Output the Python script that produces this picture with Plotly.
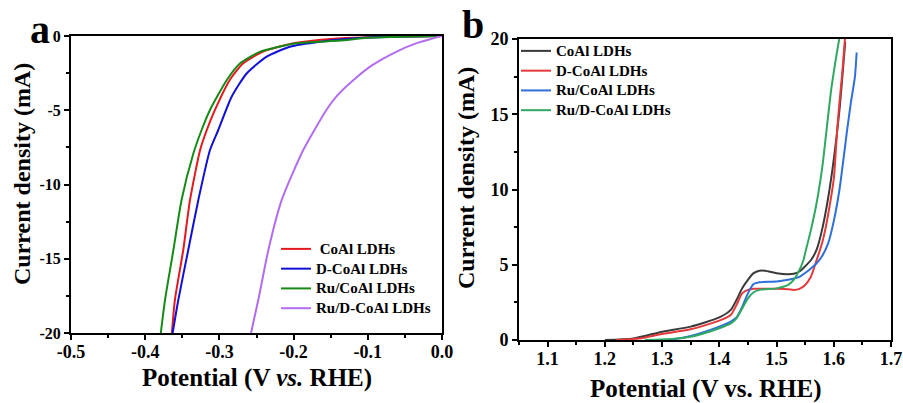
import plotly.graph_objects as go

# ---------------- Panel a (HER polarization) ----------------
a_names = [" CoAl LDHs", "D-CoAl LDHs", "Ru/CoAl LDHs", "Ru/D-CoAl LDHs"]
a_colors = ["#e3191e", "#1010d8", "#168a16", "#b26cf2"]

a_coal_v = [0.0, -0.10, -0.15, -0.20, -0.241, -0.268, -0.286, -0.306, -0.317, -0.326, -0.3396, -0.3487, -0.360, -0.364]
a_coal_j = [0.0, -0.08, -0.20, -0.49, -1.05, -1.84, -2.96, -4.98, -6.33, -7.68, -11.04, -14.41, -17.78, -20.0]

a_dcoal_v = [0.0, -0.10, -0.164, -0.205, -0.2363, -0.263, -0.2835, -0.3015, -0.3127, -0.3284, -0.342, -0.3554, -0.363]
a_dcoal_j = [0.0, -0.10, -0.38, -0.72, -1.39, -2.51, -4.09, -6.33, -7.68, -11.04, -14.41, -17.78, -20.0]

a_rucoal_v = [0.0, -0.10, -0.1375, -0.196, -0.245, -0.272, -0.290, -0.3127, -0.324, -0.335, -0.351, -0.362, -0.3733, -0.379]
a_rucoal_j = [0.0, -0.12, -0.31, -0.49, -1.05, -1.84, -2.96, -4.98, -6.33, -7.90, -11.04, -14.41, -17.78, -20.0]

a_rudcoal_v = [0.0, -0.035, -0.059, -0.095, -0.120, -0.141, -0.156, -0.187, -0.216, -0.234, -0.2476, -0.2574]
a_rudcoal_j = [0.0, -0.5, -1.0, -2.0, -3.0, -4.0, -5.0, -7.68, -11.04, -14.41, -17.78, -20.0]

a_xticks = [-0.5, -0.4, -0.3, -0.2, -0.1, 0.0]
a_xticklabels = ["-0.5", "-0.4", "-0.3", "-0.2", "-0.1", "0.0"]
a_yticks = [0, -5, -10, -15, -20]
a_yticklabels = ["0", "-5", "-10", "-15", "-20"]

# ---------------- Panel b (OER polarization) ----------------
b_names = ["CoAl LDHs", "D-CoAl LDHs", "Ru/CoAl LDHs", "Ru/D-CoAl LDHs"]
b_colors = ["#3a3a3a", "#e5383b", "#2f6fd8", "#2fa862"]

b_coal_v = [1.20, 1.25, 1.30, 1.35, 1.40, 1.42, 1.43, 1.44, 1.45, 1.46, 1.47, 1.48, 1.50, 1.52, 1.53, 1.54, 1.55, 1.56, 1.57, 1.58, 1.59, 1.60, 1.61, 1.62]
b_coal_j = [0.0, 0.1, 0.55, 0.89, 1.5, 2.0, 2.66, 3.44, 4.0, 4.44, 4.6, 4.6, 4.44, 4.37, 4.4, 4.55, 4.9, 5.3, 6.0, 7.4, 9.4, 12.0, 15.3, 19.8]

b_dcoal_v = [1.22, 1.26, 1.30, 1.35, 1.40, 1.42, 1.43, 1.44, 1.45, 1.46, 1.48, 1.50, 1.52, 1.53, 1.54, 1.55, 1.56, 1.57, 1.58, 1.585, 1.59, 1.60, 1.606, 1.61, 1.615, 1.6195]
b_dcoal_j = [0.0, 0.1, 0.4, 0.71, 1.29, 1.66, 2.33, 3.1, 3.33, 3.4, 3.4, 3.4, 3.38, 3.33, 3.4, 3.66, 4.2, 5.3, 6.5, 7.3, 8.3, 10.7, 14.0, 15.8, 17.8, 20.0]

b_rucoal_v = [1.29, 1.32, 1.35, 1.40, 1.42, 1.43, 1.44, 1.45, 1.46, 1.47, 1.50, 1.52, 1.54, 1.55, 1.56, 1.57, 1.58, 1.59, 1.60, 1.61, 1.6235, 1.63, 1.637, 1.640]
b_rucoal_j = [0.0, 0.05, 0.27, 0.89, 1.22, 1.5, 2.2, 3.1, 3.72, 3.84, 3.88, 4.0, 4.2, 4.45, 4.75, 5.1, 5.6, 6.4, 7.9, 10.0, 14.0, 15.8, 17.5, 19.1]

b_rudcoal_v = [1.27, 1.30, 1.35, 1.40, 1.42, 1.43, 1.44, 1.45, 1.46, 1.47, 1.48, 1.50, 1.52, 1.53, 1.54, 1.547, 1.55, 1.56, 1.57, 1.58, 1.5875, 1.595, 1.60, 1.605, 1.6095]
b_rudcoal_j = [0.0, 0.03, 0.22, 0.78, 1.1, 1.44, 2.1, 2.77, 3.17, 3.33, 3.38, 3.43, 3.66, 4.0, 4.66, 5.3, 5.77, 7.3, 9.1, 11.5, 14.0, 16.5, 17.8, 19.0, 20.0]

b_xticks = [1.1, 1.2, 1.3, 1.4, 1.5, 1.6, 1.7]
b_xticklabels = ["1.1", "1.2", "1.3", "1.4", "1.5", "1.6", "1.7"]
b_yticks = [0, 5, 10, 15, 20]
b_yticklabels = ["0", "5", "10", "15", "20"]

FONT = "Liberation Serif, Times New Roman, serif"
W, H = 903, 403
LEG_TEXT = 15


def leg_name(s):
    return "<span style='font-size:%dpx'>%s</span>" % (LEG_TEXT, s)


fig = go.Figure()

a_series = [(a_coal_v, a_coal_j), (a_dcoal_v, a_dcoal_j), (a_rucoal_v, a_rucoal_j), (a_rudcoal_v, a_rudcoal_j)]
for (xv, yv), nm, col in zip(a_series, a_names, a_colors):
    fig.add_trace(go.Scatter(x=xv, y=yv, name=leg_name(nm), mode="lines",
                             line=dict(color=col, width=2, shape="spline", smoothing=0.6),
                             xaxis="x", yaxis="y", legend="legend"))

b_series = [(b_coal_v, b_coal_j), (b_dcoal_v, b_dcoal_j), (b_rucoal_v, b_rucoal_j), (b_rudcoal_v, b_rudcoal_j)]
for (xv, yv), nm, col in zip(b_series, b_names, b_colors):
    fig.add_trace(go.Scatter(x=xv, y=yv, name=leg_name(nm), mode="lines",
                             line=dict(color=col, width=2, shape="spline", smoothing=0.6),
                             xaxis="x2", yaxis="y2", legend="legend2"))


def px_x(p):
    return p / W


def px_y(p):
    return 1 - p / H


def axis_common(size):
    return dict(showline=True, linecolor="black", linewidth=2, mirror=True,
                ticks="outside", ticklen=5, tickwidth=1.5, tickcolor="black",
                showgrid=False, zeroline=False, automargin=False,
                tickfont=dict(family=FONT, size=size, color="black", weight="bold"))


fig.update_layout(
    template="none",
    width=W, height=H,
    margin=dict(l=0, r=0, t=0, b=0, pad=0, autoexpand=False),
    paper_bgcolor="white", plot_bgcolor="white",
    font=dict(family=FONT, color="black"),
    xaxis=dict(domain=[px_x(71), px_x(442)], range=[-0.5, 0.0], anchor="y",
               tickmode="array", tickvals=a_xticks, ticktext=a_xticklabels,
               ticklabelstandoff=-4,
               minor=dict(dtick=0.05, tick0=0, ticks="outside", ticklen=3, tickcolor="black"),
               **axis_common(18)),
    yaxis=dict(domain=[px_y(333), px_y(36)], range=[-20, 0], anchor="x",
               tickmode="array", tickvals=a_yticks, ticktext=a_yticklabels,
               minor=dict(dtick=2.5, tick0=0, ticks="outside", ticklen=3, tickcolor="black"),
               **axis_common(16)),
    xaxis2=dict(domain=[px_x(519), px_x(891)], range=[1.05, 1.7], anchor="y2",
                tickmode="array", tickvals=b_xticks, ticktext=b_xticklabels,
                ticklabelstandoff=-4,
                minor=dict(dtick=0.05, tick0=1.05, ticks="outside", ticklen=3, tickcolor="black"),
                **axis_common(18)),
    yaxis2=dict(domain=[px_y(340), px_y(39)], range=[0, 20], anchor="x2",
                tickmode="array", tickvals=b_yticks, ticktext=b_yticklabels,
                minor=dict(dtick=2.5, tick0=0, ticks="outside", ticklen=3, tickcolor="black"),
                **axis_common(18)),
    legend=dict(x=px_x(276), y=px_y(234), xanchor="left", yanchor="top",
                bgcolor="rgba(0,0,0,0)", borderwidth=0, tracegroupgap=0,
                font=dict(family=FONT, size=12.9, color="black", weight="bold")),
    legend2=dict(x=px_x(516), y=px_y(36), xanchor="left", yanchor="top",
                 bgcolor="rgba(0,0,0,0)", borderwidth=0, tracegroupgap=0,
                 font=dict(family=FONT, size=12.9, color="black", weight="bold")),
    showlegend=True,
)

annots = [
    dict(text="<b>Potential (V <i>vs.</i> RHE)</b>", x=px_x(257), y=px_y(378), font_size=25),
    dict(text="<b>Current density (mA)</b>", x=px_x(22), y=px_y(174), font_size=24, textangle=-90),
    dict(text="<b>Potential (V vs. RHE)</b>", x=px_x(705), y=px_y(389), font_size=25),
    dict(text="<b>Current density (mA)</b>", x=px_x(466), y=px_y(178), font_size=24, textangle=-90),
    dict(text="<b>a</b>", x=px_x(40), y=px_y(29), font_size=40),
    dict(text="<b>b</b>", x=px_x(473), y=px_y(24.5), font_size=40),
]
for a in annots:
    fs = a.pop("font_size")
    fig.add_annotation(xref="paper", yref="paper", showarrow=False,
                       xanchor="center", yanchor="middle",
                       font=dict(family=FONT, size=fs, color="black"), **a)

fig.write_html("out.html",
               config={"displayModeBar": False},
               post_script="document.body.style.margin='0px';document.body.style.padding='0px';document.body.style.overflow='hidden';")
